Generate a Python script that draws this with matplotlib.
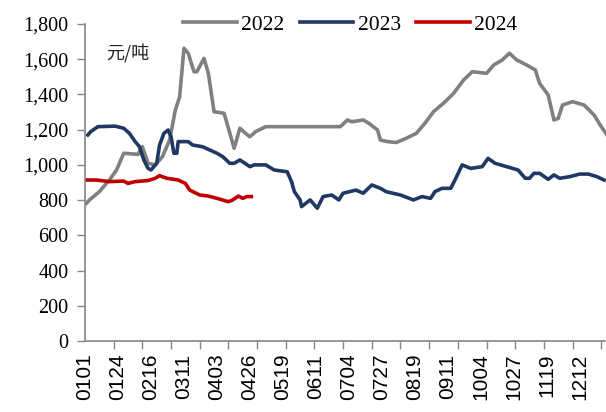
import matplotlib
matplotlib.use("Agg")
import matplotlib.pyplot as plt
from matplotlib.ticker import FuncFormatter, MultipleLocator

# day of year (0 = 0101) and price
days_2022 = [1, 3, 10, 17, 22, 27, 37, 40, 44, 49, 54, 59, 63, 66, 69, 72, 76, 78, 83, 86,
             90, 97, 100, 104, 108, 112, 115, 119, 126, 178, 183, 186, 194, 198, 204, 206,
             211, 217, 224, 231, 237, 243, 250, 257, 264, 270, 280, 285, 291, 296, 301, 308,
             314, 317, 323, 327, 330, 333, 340, 348, 355, 360, 364]
vals_2022 = [782, 800, 848, 914, 971, 1066, 1060, 1103, 1009, 1000, 1047, 1141, 1312, 1387,
             1662, 1634, 1529, 1529, 1605, 1520, 1302, 1293, 1208, 1094, 1208, 1179, 1160,
             1189, 1217, 1217, 1255, 1245, 1255, 1236, 1198, 1141, 1132, 1127, 1151, 1179,
             1236, 1302, 1350, 1406, 1482, 1529, 1520, 1567, 1596, 1634, 1596, 1567, 1539,
             1463, 1397, 1255, 1264, 1340, 1359, 1340, 1283, 1217, 1170]

days_2023 = [2, 4, 9, 21, 27, 31, 35, 38, 41, 44, 46, 50, 52, 55, 58, 60, 62, 64, 65, 72, 75,
             82, 92, 96, 101, 104, 108, 115, 118, 126, 132, 141, 144, 146, 150, 151, 157, 162,
             166, 172, 177, 180, 189, 194, 200, 206, 210, 220, 229, 235, 241, 244, 249, 255,
             258, 263, 269, 277, 281, 286, 294, 302, 307, 310, 313, 317, 323, 327, 331, 338,
             345, 351, 357, 362]
vals_2023 = [1170, 1189, 1217, 1220, 1208, 1179, 1132, 1103, 1028, 980, 971, 1009, 1113, 1179,
             1198, 1160, 1066, 1066, 1132, 1132, 1113, 1103, 1066, 1047, 1009, 1009, 1028, 990,
             1000, 1000, 971, 961, 905, 848, 801, 763, 801, 754, 820, 829, 801, 839, 857, 839,
             886, 867, 848, 829, 801, 820, 810, 848, 867, 867, 914, 1000, 980, 990, 1037, 1009,
             990, 971, 924, 924, 952, 952, 918, 943, 924, 933, 948, 948, 933, 914]

days_2024 = [1, 8, 17, 27, 30, 35, 44, 49, 52, 57, 65, 70, 73, 80, 86, 92, 100, 103, 107,
             110, 113, 116]
vals_2024 = [914, 914, 905, 908, 895, 905, 911, 924, 939, 924, 914, 895, 857, 829, 823, 810,
             791, 801, 823, 810, 820, 820]

label_days = list(range(0, 346, 23))
label_text = ["0101", "0124", "0216", "0311", "0403", "0426", "0519", "0611", "0704",
              "0727", "0819", "0911", "1004", "1027", "1119", "1212"]

GRAY = "#808080"
NAVY = "#1f3864"
RED = "#c00000"
AXIS = "#868686"

plt.rcParams.update({
    "font.family": ["Liberation Serif", "DejaVu Sans"],
    "figure.facecolor": "white",
})

fig = plt.figure(figsize=(6.06, 4.12), dpi=100)
ax = fig.add_axes([85 / 606, 71 / 412, 522 / 606, 317 / 412])

lw = 2.6
ax.plot(days_2022, vals_2022, color=GRAY, lw=lw, label="2022", solid_joinstyle="round")
ax.plot(days_2023, vals_2023, color=NAVY, lw=lw, label="2023", solid_joinstyle="round")
ax.plot(days_2024, vals_2024, color=RED, lw=lw, label="2024", solid_joinstyle="round")

ax.set_xlim(0, 364)
ax.set_ylim(0, 1800)
ax.yaxis.set_major_locator(MultipleLocator(200))
ax.yaxis.set_major_formatter(FuncFormatter(lambda v, p: f"{int(v):,}"))
ax.tick_params(axis="y", direction="out", length=6, width=1, color=AXIS,
               labelsize=14.5, pad=6)

# labelled positions every 23 days, tick marks every 20 days
ax.set_xticks(label_days)
ax.set_xticklabels(label_text, rotation=90, family="Liberation Sans", fontsize=15)
ax.tick_params(axis="x", which="major", length=0, pad=9)
ax.set_xticks(range(0, 361, 20), minor=True)
ax.tick_params(axis="x", which="minor", direction="out", length=6, width=1, color=AXIS)

for s in ["top", "right"]:
    ax.spines[s].set_visible(False)
for s in ["left", "bottom"]:
    ax.spines[s].set_color(AXIS)
    ax.spines[s].set_linewidth(1.2)

ax.text(15, 1605, "元/吨", family=["Noto Sans CJK SC", "DejaVu Sans"], fontsize=13,
        color="#222222")

fig.legend(loc="center", bbox_to_anchor=(0.578, 0.94), ncol=3, frameon=False,
           fontsize=15.5, handlelength=2.5, handletextpad=0.2, columnspacing=0.7,
           borderpad=0)

fig.savefig("out.png", dpi=100)
